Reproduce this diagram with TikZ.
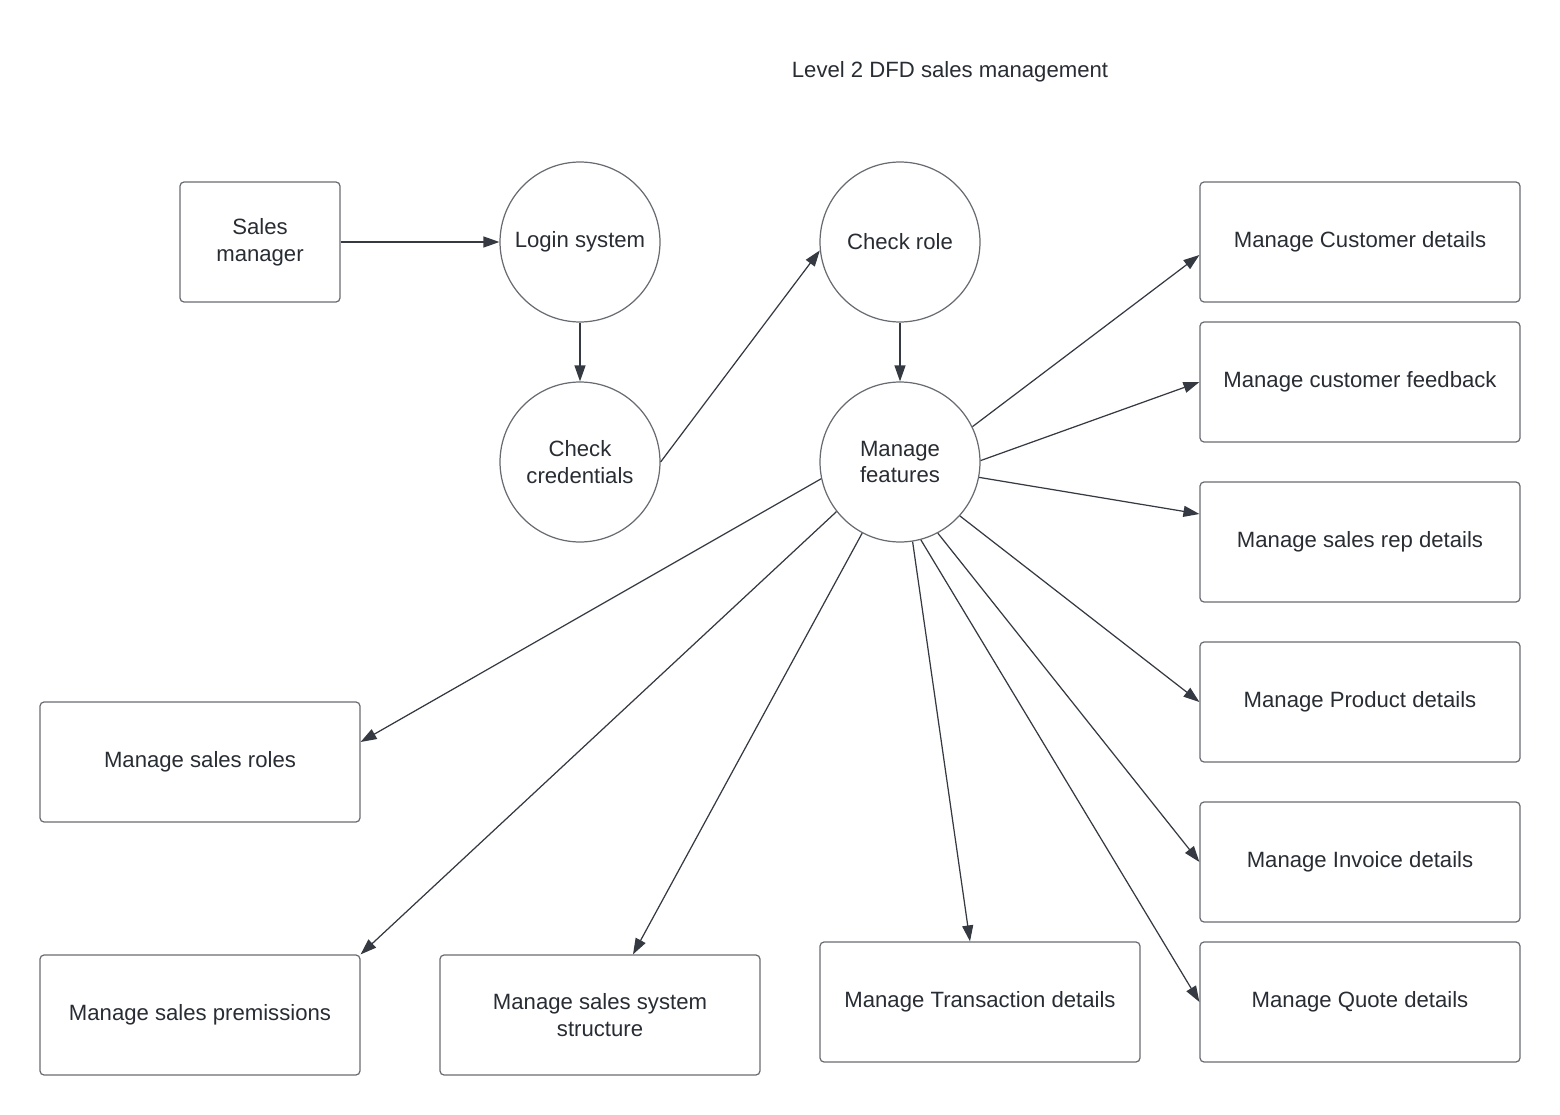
\documentclass[tikz,border=0pt]{standalone}
\usepackage{fontspec}
\setmainfont{Liberation Sans}
\usetikzlibrary{arrows.meta}
\definecolor{ink}{RGB}{52,57,66}
\definecolor{edge}{RGB}{104,108,114}
\definecolor{txt}{RGB}{40,44,51}

\begin{document}
\begin{tikzpicture}[x=0.02cm, y=-0.02cm,
	every node/.style={text=txt, font=\fontsize{12.6}{15.2}\selectfont, align=center},
	proc/.style={draw=edge, line width=0.7pt, circle, minimum size=3.2cm, inner sep=0pt},
	store/.style={draw=edge, line width=0.7pt, rounded corners=0.08cm, minimum width=6.4cm, minimum height=2.4cm, inner sep=2pt},
	flow/.style={draw=ink, line width=0.7pt, -{Triangle[length=0.32cm, width=0.22cm]}}]
	\useasboundingbox (0,0) rectangle (1560,1115);

	\node (title) at (950,72) {Level 2 DFD sales management};

	% actor and processes
	\node[store, minimum width=3.2cm] (sm) at (260,242) {Sales\\manager};
	\node[proc] (ls) at (580,242) {Login system};
	\node[proc] (cc) at (580,462) {Check\\credentials};
	\node[proc] (cr) at (900,242) {Check role};
	\node[proc] (mf) at (900,462) {Manage\\features};

	% feature boxes
	\node[store] (cust) at (1360,242) {Manage Customer details};
	\node[store] (fb) at (1360,382) {Manage customer feedback};
	\node[store] (rep) at (1360,542) {Manage sales rep details};
	\node[store] (prod) at (1360,702) {Manage Product details};
	\node[store] (inv) at (1360,862) {Manage Invoice details};
	\node[store] (quote) at (1360,1002) {Manage Quote details};
	\node[store] (trans) at (980,1002) {Manage Transaction details};
	\node[store] (roles) at (200,762) {Manage sales roles};
	\node[store] (perm) at (200,1015) {Manage sales premissions};
	\node[store] (struct) at (600,1015) {Manage sales system\\structure};

	\draw[flow] (sm.east) -- (ls.west);
	\draw[flow] (ls.south) -- (cc.north);
	\draw[flow] (cc.east) -- (cr.186);
	\draw[flow] (cr.south) -- (mf.north);

	\draw[flow] (mf.26) -- ([yshift=-0.26cm]cust.west);
	\draw[flow] (mf.1) -- (fb.west);
	\draw[flow] (mf.-11) -- ([yshift=0.56cm]rep.west);
	\draw[flow] (mf.-42) -- (prod.west);
	\draw[flow] (mf.-62) -- (inv.west);
	\draw[flow] (mf.-75) -- (quote.west);
	\draw[flow] (mf.-81) -- ([xshift=-0.2cm]trans.north);
	\draw[flow] (mf.-118) -- ([xshift=0.66cm]struct.north);
	\draw[flow] (mf.-142) -- (perm.north east);
	\draw[flow] (mf.-168) -- ([yshift=0.4cm]roles.east);
\end{tikzpicture}
\end{document}
